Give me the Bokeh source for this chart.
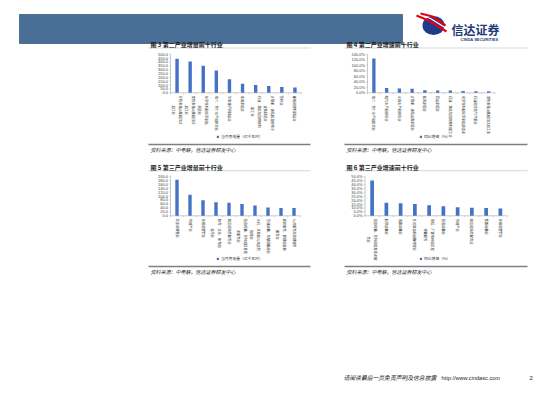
import math
from bokeh.plotting import figure
from bokeh.models import Range1d, Legend, LegendItem
from bokeh.core.properties import value
from bokeh.embed import file_html
from bokeh.resources import INLINE

# ---------------- data ----------------
c3_title = "图 3 第二产业增量前十行业"
c3_cats = ["有色金属冶炼和压延\n加工业", "黑色金属冶炼和压延\n加工业", "化学原料和化学制品\n制造业",
           "电力、热力生产和供应业", "非金属矿物制品业", "金属制品业",
           "石油、煤炭及其他燃料\n加工业", "计算机、通信和其他电子\n设备制造业", "纺织业", "橡胶和塑料制品业"]
c3_vals = [440, 405, 350, 290, 175, 118, 100, 88, 75, 70]
c3_ticks = [0, 50, 100, 150, 200, 250, 300, 350, 400, 450, 500]
c3_legend = "当月用电量（亿千瓦时）"

c4_title = "图 4 第二产业增速前十行业"
c4_cats = ["电力、热力生产和供应业", "燃气生产和供应业", "水的生产和供应业", "计算机、通信设备制造业",
           "医药制造业", "食品制造业", "石油、煤炭及其他燃料加工业", "化学原料和化学制品制造业",
           "石油和天然气开采业", "黑色金属冶炼和压延加工业"]
c4_vals = [124, 17, 16, 15, 9, 8.5, 8, 6.5, 6, 5.5]
c4_ticks = [0, 20, 40, 60, 80, 100, 120, 140]
c4_legend = "同比增速（%）"

c5_title = "图 5 第三产业增量前十行业"
c5_cats = ["批发和零售业", "房地产业", "住宿和餐饮业", "教育、文化、体育和\n娱乐业", "租赁和商务服务业",
           "信息传输、软件和信息技\n术服务业", "水利、环境和公共设施\n管理业", "交通运输、仓储和邮政业",
           "居民服务、修理和其他\n服务业", "公共服务及管理组织"]
c5_vals = [182, 106, 79, 69, 66, 60, 52, 42, 40, 39]
c5_ticks = [0, 20, 40, 60, 80, 100, 120, 140, 160, 180, 200]
c5_legend = "当月用电量（亿千瓦时）"

c6_title = "图 6 第三产业增速前十行业"
c6_cats = ["信息传输、软件和信息技术服\n务业", "航空运输业", "道路运输业", "多式联运和运输代理业",
           "电信、广播电视和卫星\n传输服务", "管道运输业", "房地产业", "租赁和商务服务业",
           "铁路运输业", "住宿和餐饮业"]
c6_vals = [45, 16.5, 16, 15, 13.5, 12, 11, 10.2, 10, 9.3]
c6_ticks = [0, 5, 10, 15, 20, 25, 30, 35, 40, 45, 50]
c6_legend = "同比增速（%）"

source_text = "资料来源：中电联，信达证券研发中心"
footer_text = "请阅读最后一页免责声明及信息披露"
footer_url = "http://www.cindasc.com"
page_no = "2"

# ---------------- layout constants ----------------
W, H = 552, 388
OX = OY = 0
CJK = value("Noto Sans CJK SC")
ARIAL = value("Liberation Sans")
BLUE = "#4472C4"
AXIS = "#a6a6a6"

p = figure(width=W, height=H, x_range=Range1d(0, W), y_range=Range1d(H, 0),
           x_axis_type=None, y_axis_type=None, min_border=0,
           toolbar_location=None, output_backend="svg",
           outline_line_color=None, background_fill_color="white",
           border_fill_color="white")


def cx(x):
    return x - OX


def cy(y):
    return y - OY


def xr(x_left, x_right, n):
    k = n / (x_right - x_left)
    s = -0.5 - (x_left - OX) * k
    return Range1d(s, s + W * k)


def yr(y_top, y_bot, vmax):
    by0 = H - (y_bot - OY)
    by1 = H - (y_top - OY)
    k = vmax / (by1 - by0)
    s = -by0 * k
    return Range1d(s, s + H * k)


# ---------------- header ----------------
p.quad(left=[cx(19)], right=[cx(402)], top=[cy(14)], bottom=[cy(43)],
       fill_color="#4a6f96", line_color="#3d5d80", line_width=0.8)
p.ellipse(x=[cx(433)], y=[cy(25)], width=22, height=19, fill_color="#1f3b8c", line_color=None)
p.multi_line(xs=[[cx(416), cx(428), cx(446)], [cx(418), cx(430), cx(446)], [cx(420), cx(432), cx(445)]],
             ys=[[cy(15), cy(20), cy(31)], [cy(14), cy(18), cy(28)], [cy(13), cy(16), cy(25)]],
             line_color=["#e60012", "white", "#e60012"], line_width=[2.2, 1.2, 2.2])
p.text(x=[cx(451)], y=[cy(29)], text=["信达证券"], text_font=CJK, text_font_style="bold",
       text_font_size="12px", text_baseline="middle", text_color="#1e3a78")
p.text(x=[cx(460)], y=[cy(38.5)], text=["CINDA SECURITIES"], text_font=ARIAL, text_font_style="bold",
       text_font_size="4px", text_baseline="middle", text_color="#1e3a78")


def draw_chart(name, title, cats, vals, ticks, fmt, legend_label,
               area, col, title_y, rule_y, leg):
    x_left, x_right, y_top, y_bot = area
    n = len(cats)
    vmax = ticks[-1]
    p.extra_x_ranges[name + "x"] = xr(x_left, x_right, n)
    p.extra_y_ranges[name + "y"] = yr(y_top, y_bot, vmax)
    kw = dict(x_range_name=name + "x", y_range_name=name + "y")
    idx = list(range(n))

    # axes
    p.segment(x0=[-0.5, -0.5], y0=[0, 0], x1=[-0.5, n - 0.5], y1=[vmax, 0],
              line_color=AXIS, line_width=0.6, **kw)
    bx = [i - 0.5 for i in range(n + 1)]
    p.segment(x0=bx, y0=[0] * (n + 1), x1=bx, y1=[-vmax * 0.035] * (n + 1),
              line_color=AXIS, line_width=0.5, **kw)
    p.segment(x0=[-0.5] * len(ticks), y0=ticks, x1=[-0.5 - 0.1] * len(ticks), y1=ticks,
              line_color=AXIS, line_width=0.5, **kw)
    p.text(x=[-0.5] * len(ticks), y=ticks, text=[fmt(t) for t in ticks], x_offset=-2.5,
           text_align="right", text_baseline="middle", text_font_size="4px",
           text_font=ARIAL, text_color="#404040", **kw)

    # bars
    r = p.vbar(x=idx, top=vals, bottom=0, width=0.26, fill_color=BLUE, line_color=None, **kw)

    # category labels (rotated)
    fs = 3.2
    offs = [3 + max(len(s) for s in c.split("\n")) * fs / 2 for c in cats]
    p.text(x=idx, y=[0] * n, text=cats, angle=-math.pi / 2, y_offset=offs,
           text_align="center", text_baseline="middle", text_font_size=f"{fs}px",
           text_line_height=1.4, text_font=CJK, text_color="#262626", **kw)

    # legend
    lx, lyc = leg
    legend = Legend(items=[LegendItem(label=legend_label, renderers=[r])],
                    location=(cx(lx), H - cy(lyc + 2.2)),
                    glyph_width=3, glyph_height=3, label_height=4, label_width=10,
                    label_standoff=2, padding=0, margin=0, spacing=0,
                    label_text_font_size="3.8px", label_text_font="Noto Sans CJK SC",
                    label_text_color="#404040", border_line_color=None,
                    background_fill_alpha=0)
    p.add_layout(legend)

    # title, rules, source
    c0, c1 = col
    p.text(x=[cx(c0 + 2)], y=[cy(title_y)], text=[title], text_font=CJK, text_font_style="bold",
           text_font_size="6px", text_baseline="middle", text_color="#1a1a1a")
    p.segment(x0=[cx(c0)], x1=[cx(c1)], y0=[cy(title_y + 3.5)], y1=[cy(title_y + 3.5)],
              line_color="#b0b0b0", line_width=0.5)
    p.segment(x0=[cx(c0)], x1=[cx(c1)], y0=[cy(rule_y)], y1=[cy(rule_y)],
              line_color="#7f7f7f", line_width=1.6)
    p.text(x=[cx(c0 + 2)], y=[cy(rule_y + 4.5)], text=[source_text], text_font=CJK,
           text_font_style="italic", text_font_size="5px", text_baseline="middle",
           text_color="#262626")


num = lambda t: f"{t:.1f}"
pct = lambda t: f"{t:.1f}%"

draw_chart("c3", c3_title, c3_cats, c3_vals, c3_ticks, num, c3_legend,
           (170, 301, 53.7, 92.3), (148, 310), 44, 144, (216, 137))
draw_chart("c4", c4_title, c4_cats, c4_vals, c4_ticks, pct, c4_legend,
           (367, 494.5, 53.7, 92.3), (344, 527), 44, 144, (419, 137))
draw_chart("c5", c5_title, c5_cats, c5_vals, c5_ticks, num, c5_legend,
           (170, 300, 175.7, 215.3), (148, 310), 166.7, 266, (216, 259))
draw_chart("c6", c6_title, c6_cats, c6_vals, c6_ticks, pct, c6_legend,
           (364.5, 507, 176, 215.3), (344, 527), 166.7, 266, (419, 259))

# ---------------- footer ----------------
p.text(x=[cx(343)], y=[cy(377)], text=[footer_text], text_font=CJK, text_font_style="italic",
       text_font_size="5.8px", text_baseline="middle", text_color="#262626")
p.text(x=[cx(441)], y=[cy(377)], text=[footer_url], text_font=ARIAL,
       text_font_size="5.6px", text_baseline="middle", text_color="#262626")
p.text(x=[cx(529)], y=[cy(377)], text=[page_no], text_font=ARIAL,
       text_font_size="6px", text_baseline="middle", text_color="#262626")

open("out.html", "w").write(file_html(p, INLINE))
